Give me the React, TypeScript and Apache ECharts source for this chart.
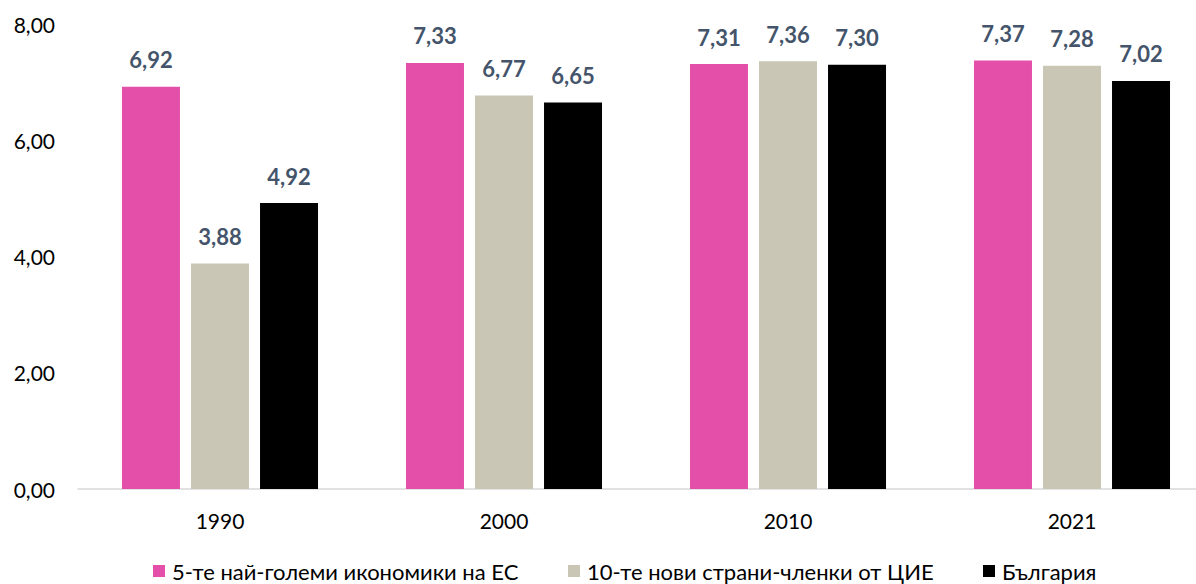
import React, { useEffect, useRef } from "react";
import * as echarts from "echarts";

const categories = ["1990", "2000", "2010", "2021"];
const seriesNames = [
  "5-те най-големи икономики на ЕС",
  "10-те нови страни-членки от ЦИЕ",
  "България",
];
const top5EU = [6.92, 7.33, 7.31, 7.37];
const new10CEE = [3.88, 6.77, 7.36, 7.28];
const bulgaria = [4.92, 6.65, 7.3, 7.02];
const yTicks = { min: 0, max: 8, interval: 2 };

const colors = ["#E34FA9", "#C9C6B5", "#000000"];
const legendLefts = [153, 568, 983];
const FONT = "Lato, 'Noto Sans', sans-serif";
const fmt = (v: number) => v.toFixed(2).replace(".", ",");

export default function App() {
  const ref = useRef<HTMLDivElement>(null);
  useEffect(() => {
    if (!ref.current) return;
    const chart = echarts.init(ref.current, null, { renderer: "svg" });
    const data = [top5EU, new10CEE, bulgaria];
    chart.setOption({
      animation: false,
      backgroundColor: "#ffffff",
      textStyle: { fontFamily: FONT },
      grid: { left: 78, right: 0, top: 24, bottom: 95, containLabel: false },
      legend: seriesNames.map((name, i) => ({
        left: legendLefts[i],
        top: 560,
        padding: 0,
        itemWidth: 12,
        itemHeight: 12,
        icon: "rect",
        selectedMode: false,
        textStyle: {
          fontSize: 22,
          color: "#000",
          fontFamily: FONT,
          padding: [0, 0, 0, 2],
        },
        data: [name],
      })),
      xAxis: {
        type: "category",
        data: categories,
        axisLine: { lineStyle: { color: "#D9D9D9", width: 1.5 } },
        axisTick: { show: false },
        axisLabel: { fontSize: 21, color: "#000", margin: 21, fontFamily: FONT },
      },
      yAxis: {
        type: "value",
        min: yTicks.min,
        max: yTicks.max,
        interval: yTicks.interval,
        splitLine: { show: false },
        axisLine: { show: false },
        axisTick: { show: false },
        axisLabel: {
          fontSize: 21,
          color: "#000",
          margin: 23,
          fontFamily: FONT,
          formatter: (v: number) => fmt(v),
        },
      },
      series: seriesNames.map((name, i) => ({
        name,
        type: "bar",
        data: data[i],
        barWidth: 58,
        barGap: "19%",
        itemStyle: { color: colors[i] },
        label: {
          show: true,
          position: "top",
          distance: 16,
          fontSize: 22,
          fontWeight: "bold",
          color: "#44546A",
          fontFamily: FONT,
          formatter: (p: any) => fmt(p.value),
        },
      })),
    });
    return () => chart.dispose();
  }, []);
  return (
    <div
      style={{
        position: "absolute",
        left: 0,
        top: 0,
        width: 1196,
        height: 584,
        overflow: "hidden",
        background: "#fff",
      }}
    >
      <div ref={ref} style={{ width: 1214, height: 584 }} />
    </div>
  );
}
